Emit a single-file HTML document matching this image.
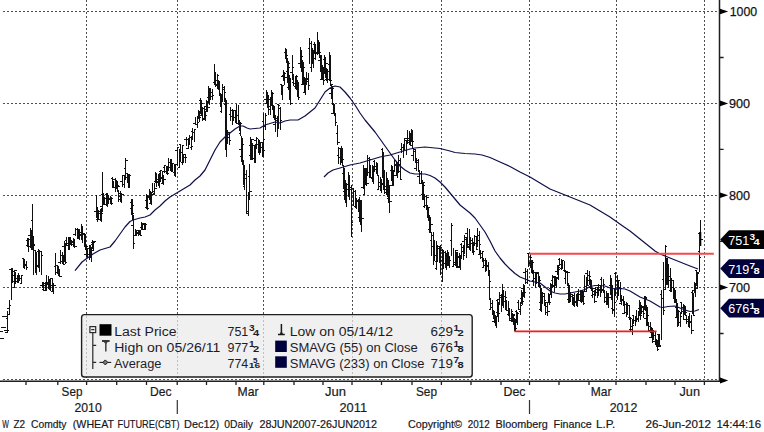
<!DOCTYPE html>
<html><head><meta charset="utf-8"><title>W Z2 Comdty</title>
<style>
html,body{margin:0;padding:0;background:#fff;}
body{width:764px;height:432px;overflow:hidden;font-family:"Liberation Sans",sans-serif;}
svg{display:block}
svg text{font-family:"Liberation Sans",sans-serif;}
</style></head><body>
<svg width="764" height="432" viewBox="0 0 764 432">
<rect width="764" height="432" fill="#fff"/>
<g stroke="#505050" stroke-width="1" stroke-dasharray="2 2" fill="none" shape-rendering="crispEdges"><line x1="86.5" y1="0" x2="86.5" y2="380" /><line x1="177.5" y1="0" x2="177.5" y2="380" /><line x1="263.5" y1="0" x2="263.5" y2="380" /><line x1="352.5" y1="0" x2="352.5" y2="380" /><line x1="441.5" y1="0" x2="441.5" y2="380" /><line x1="529.5" y1="0" x2="529.5" y2="380" /><line x1="616.5" y1="0" x2="616.5" y2="380" /><line x1="704.5" y1="0" x2="704.5" y2="380" /><line x1="3" y1="11.5" x2="718" y2="11.5" /><line x1="3" y1="103.5" x2="718" y2="103.5" /><line x1="3" y1="195.5" x2="718" y2="195.5" /><line x1="3" y1="287.5" x2="718" y2="287.5" /><line x1="3" y1="379.5" x2="718" y2="379.5" /></g>
<path d="M7.5 311V333M9.5 300V315M11.5 268V300M12.5 268V283M14.5 270V288M15.5 272V284M17.5 275V283M18.5 273V283M19.5 275V281M21.5 275V284M23.5 258V268M24.5 259V269M26.5 261V270M27.5 238V247M28.5 238V252M30.5 228V248M31.5 230V250M32.5 204V250M33.5 236V275M35.5 250V273M36.5 252V275M38.5 249V268M39.5 250V272M41.5 252V275M42.5 282V288M43.5 283V291M45.5 282V291M46.5 282V291M46.5 275V285M48.5 276V288M49.5 279V290M50.5 278V291M52.5 279V292M53.5 283V294M55.5 253V275M57.5 265V274M58.5 266V276M59.5 269V277M60.5 250V264M62.5 252V264M63.5 255V265M64.5 241V262M65.5 243V264M66.5 237V246M68.5 238V250M69.5 238V250M70.5 237V245M71.5 240V246M73.5 238V247M74.5 239V248M75.5 228V236M77.5 228V239M78.5 229V239M79.5 229V240M81.5 224V240M82.5 226V243M84.5 233V247M85.5 234V250M86.5 245V257M87.5 248V258M89.5 245V260M90.5 245V257M91.5 247V262M92.5 240V249M93.5 241V250M96.5 195V218M97.5 208V222M98.5 210V220M100.5 209V221M101.5 208V222M102.5 172V212M103.5 193V205M104.5 197V204M106.5 193V206M107.5 193V207M108.5 195V204M110.5 196V204M111.5 197V205M112.5 177V188M113.5 181V188M115.5 178V192M116.5 180V189M117.5 181V192M118.5 190V202M120.5 191V202M121.5 193V203M122.5 175V187M124.5 176V188M125.5 158V180M127.5 173V183M128.5 174V187M129.5 174V188M131.5 199V215M132.5 199V220M133.5 215V249M135.5 229V236M136.5 230V235M138.5 230V236M139.5 230V235M140.5 231V236M141.5 222V230M142.5 223V230M144.5 223V229M145.5 223V230M146.5 194V209M147.5 195V210M149.5 189V200M150.5 191V203M151.5 192V205M152.5 183V193M154.5 183V195M155.5 172V183M156.5 173V187M158.5 174V186M159.5 173V188M160.5 170V182M162.5 172V184M163.5 175V185M164.5 165V173M166.5 166V174M167.5 166V175M168.5 158V171M170.5 159V171M171.5 159V172M172.5 163V172M174.5 164V176M175.5 164V177M177.5 147V166M179.5 149V168M180.5 144V162M182.5 145V165M183.5 154V163M185.5 155V163M186.5 137V146M188.5 138V149M189.5 135V145M191.5 136V150M192.5 128V140M194.5 129V142M195.5 117V124M197.5 117V128M198.5 110V119M199.5 111V122M200.5 98V114M201.5 100V115M202.5 107V121M204.5 107V120M205.5 111V121M206.5 100V112M207.5 101V112M208.5 86V103M209.5 88V105M210.5 88V100M212.5 89V100M214.5 64V85M215.5 72V87M217.5 74V88M218.5 80V90M219.5 81V95M220.5 93V107M221.5 95V113M222.5 84V101M224.5 86V102M225.5 98V150M226.5 100V157M227.5 130V144M229.5 132V145M230.5 107V121M232.5 109V125M233.5 110V121M235.5 111V123M236.5 104V124M238.5 105V125M239.5 120V131M240.5 122V136M241.5 136V162M242.5 138V165M243.5 160V185M244.5 165V190M246.5 170V214M248.5 192V216M249.5 164V200M250.5 137V160M251.5 139V160M252.5 143V160M254.5 145V163M255.5 144V163M256.5 137V149M258.5 139V153M259.5 140V155M260.5 142V153M262.5 142V157M263.5 113V157M265.5 113V130M266.5 90V103M267.5 92V108M268.5 95V115M270.5 97V115M271.5 90V106M272.5 92V110M273.5 105V118M274.5 106V120M275.5 115V132M277.5 116V137M278.5 104V129M280.5 107V130M281.5 84V95M282.5 85V100M283.5 70V81M284.5 72V85M285.5 48V59M286.5 50V63M287.5 58V83M288.5 61V90M289.5 75V100M290.5 78V105M292.5 55V80M293.5 74V86M295.5 76V88M296.5 75V90M297.5 80V97M298.5 82V100M300.5 47V68M301.5 50V72M302.5 60V84M303.5 62V85M304.5 77V93M305.5 78V95M306.5 72V85M308.5 73V90M309.5 38V64M311.5 41V72M312.5 48V64M313.5 50V68M314.5 42V54M315.5 44V60M317.5 32V55M318.5 40V54M319.5 42V58M320.5 55V72M321.5 55V80M322.5 65V80M323.5 67V85M324.5 55V74M325.5 57V78M326.5 68V81M327.5 70V83M329.5 52V81M330.5 55V86M331.5 84V99M332.5 86V105M333.5 103V114M334.5 104V115M335.5 113V126M337.5 125V145M338.5 147V164M340.5 149V165M341.5 146V162M342.5 148V166M343.5 165V189M344.5 168V200M345.5 180V203M346.5 183V207M348.5 172V197M349.5 175V200M351.5 185V237M353.5 188V206M355.5 190V208M356.5 198V209M358.5 199V212M359.5 197V222M360.5 200V225M361.5 200V232M363.5 165V189M364.5 168V195M365.5 168V185M366.5 169V186M367.5 155V176M369.5 157V178M370.5 165V178M372.5 165V182M373.5 166V184M374.5 160V172M376.5 162V174M377.5 163V176M378.5 175V189M380.5 177V191M381.5 180V193M382.5 148V178M383.5 152V190M384.5 170V194M386.5 172V195M387.5 178V197M388.5 180V203M389.5 185V213M391.5 165V181M392.5 166V186M393.5 170V186M394.5 160V172M396.5 162V176M397.5 162V178M398.5 155V173M400.5 158V180M401.5 143V153M403.5 144V158M404.5 138V150M406.5 140V155M407.5 130V144M409.5 131V145M410.5 134V146M411.5 129V142M412.5 130V148M413.5 148V161M415.5 150V163M416.5 158V171M418.5 159V172M419.5 170V183M421.5 171V184M422.5 180V200M423.5 182V200M424.5 194V208M426.5 195V210M427.5 205V218M428.5 207V221M429.5 215V233M430.5 217V233M431.5 232V256M433.5 232V265M434.5 240V261M436.5 241V270M437.5 245V262M439.5 246V262M440.5 245V275M442.5 249V282M443.5 250V269M445.5 251V268M446.5 253V270M447.5 250V266M448.5 252V266M449.5 256V268M451.5 223V256M453.5 248V267M455.5 250V266M456.5 252V268M457.5 252V267M459.5 253V268M460.5 255V270M461.5 243V259M463.5 245V260M464.5 235V254M466.5 237V258M467.5 228V246M469.5 229V250M470.5 237V251M472.5 238V253M473.5 242V255M474.5 235V246M476.5 236V250M477.5 228V247M479.5 231V255M480.5 250V259M482.5 251V262M483.5 258V268M485.5 258V272M486.5 260V271M488.5 262V276M489.5 270V300M490.5 298V310M492.5 300V315M493.5 310V319M494.5 311V323M495.5 315V326M496.5 316V328M497.5 300V317M498.5 302V322M499.5 292V305M501.5 294V312M502.5 284V306M503.5 290V308M505.5 291V310M506.5 300V311M508.5 301V315M509.5 308V321M511.5 309V322M512.5 313V322M513.5 314V325M514.5 318V331M515.5 319V331M516.5 310V322M517.5 312V325M518.5 300V310M520.5 302V315M521.5 290V304M522.5 292V305M523.5 284V297M524.5 285V298M525.5 268V284M527.5 269V284M528.5 253V267M530.5 254V268M531.5 260V273M532.5 260V274M533.5 270V286M535.5 272V288M536.5 272V284M538.5 272V287M539.5 276V288M540.5 285V311M541.5 288V312M542.5 292V304M544.5 293V306M545.5 302V315M547.5 303V316M548.5 293V303M549.5 294V305M550.5 283V295M551.5 284V298M552.5 275V288M554.5 277V292M555.5 277V285M556.5 278V288M557.5 265V275M558.5 265V280M559.5 258V266M561.5 259V270M562.5 260V269M564.5 261V272M565.5 270V284M567.5 272V286M568.5 283V303M569.5 285V303M570.5 293V302M572.5 294V305M573.5 297V306M574.5 293V307M576.5 294V306M577.5 293V307M578.5 289V300M580.5 290V302M581.5 290V303M582.5 290V302M583.5 292V305M584.5 275V291M586.5 277V292M587.5 270V285M589.5 271V285M590.5 279V289M591.5 280V291M592.5 288V298M594.5 290V303M595.5 287V296M597.5 287V298M598.5 284V296M600.5 285V297M601.5 277V293M603.5 279V293M604.5 290V303M606.5 291V305M607.5 293V305M608.5 293V308M610.5 275V295M611.5 278V300M612.5 285V314M614.5 288V317M615.5 272V296M617.5 275V300M618.5 281V296M620.5 282V302M621.5 295V305M623.5 296V306M624.5 301V314M626.5 302V317M627.5 303V315M629.5 305V320M630.5 317V332M632.5 319V335M633.5 315V324M635.5 316V326M636.5 310V322M638.5 311V322M639.5 300V316M640.5 302V320M641.5 305V314M643.5 306V318M644.5 296V310M645.5 296V311M646.5 305V324M647.5 307V325M648.5 322V331M650.5 322V333M651.5 327V338M652.5 328V343M653.5 330V340M655.5 332V345M656.5 339V347M657.5 340V351M658.5 334V346M659.5 334V347M661.5 290V340M663.5 262V315M665.5 245V290M666.5 258V285M667.5 258V285M668.5 265V288M670.5 268V292M671.5 278V292M673.5 280V298M674.5 288V303M675.5 290V303M676.5 300V318M677.5 303V327M678.5 310V326M680.5 312V327M681.5 302V314M683.5 304V320M684.5 305V315M685.5 306V316M686.5 315V324M688.5 316V327M689.5 313V328M691.5 315V334M692.5 290V314M693.5 293V316M694.5 282V293M695.5 284V297M696.5 270V285M697.5 272V288M699.5 246V272M700.5 220V246M6 318.5H8M7 314.5H10M7 308.5H10M9 305.5H11M9 269.5H12M11 281.5H14M11 269.5H13M12 271.5H14M13 287.5H15M14 270.5H17M13 275.5H16M15 281.5H17M15 278.5H18M17 275.5H20M17 276.5H19M18 278.5H21M18 276.5H20M19 278.5H21M20 283.5H22M21 275.5H23M22 258.5H24M23 264.5H25M23 265.5H25M24 264.5H26M24 265.5H27M26 267.5H28M26 245.5H28M27 240.5H29M26 240.5H29M28 239.5H30M28 235.5H31M30 245.5H32M29 246.5H32M31 247.5H33M31 220.5H33M32 244.5H35M31 242.5H34M33 245.5H35M34 250.5H36M35 259.5H37M35 264.5H37M36 266.5H39M37 265.5H39M38 264.5H40M37 251.5H40M39 251.5H42M39 251.5H42M41 255.5H43M40 285.5H43M42 282.5H44M42 289.5H44M43 290.5H45M44 285.5H46M45 284.5H48M45 286.5H47M46 283.5H49M44 283.5H47M46 282.5H48M47 282.5H49M48 285.5H51M48 288.5H50M49 287.5H51M48 282.5H51M50 278.5H53M51 291.5H53M52 285.5H54M51 285.5H54M53 285.5H56M54 266.5H56M55 272.5H57M56 265.5H58M57 270.5H59M57 267.5H59M58 273.5H60M58 272.5H60M59 276.5H62M58 262.5H61M60 261.5H62M60 255.5H63M62 258.5H65M62 260.5H64M63 264.5H65M62 246.5H65M64 247.5H66M64 245.5H66M65 262.5H67M65 240.5H67M66 245.5H68M66 243.5H69M68 240.5H70M68 246.5H70M69 244.5H71M68 237.5H71M70 241.5H73M70 243.5H72M71 244.5H73M72 242.5H74M73 244.5H75M73 245.5H75M74 246.5H77M73 234.5H76M75 229.5H77M76 229.5H78M77 235.5H79M77 235.5H79M78 230.5H80M78 233.5H80M79 234.5H81M79 232.5H82M81 229.5H83M80 235.5H83M82 233.5H84M83 233.5H85M84 246.5H86M83 234.5H86M85 246.5H88M84 254.5H87M86 248.5H88M86 249.5H88M87 248.5H89M87 254.5H90M89 257.5H91M89 250.5H91M90 249.5H92M89 254.5H92M91 250.5H94M91 242.5H93M92 242.5H95M91 244.5H94M93 241.5H96M94 211.5H97M96 207.5H98M96 219.5H98M97 213.5H99M97 216.5H99M98 219.5H100M98 213.5H101M100 213.5H103M99 211.5H102M101 210.5H103M100 206.5H103M102 198.5H105M101 194.5H104M103 198.5H105M103 199.5H105M104 204.5H106M104 198.5H107M106 199.5H108M105 194.5H108M107 198.5H110M107 200.5H109M108 199.5H110M109 199.5H111M110 198.5H113M110 197.5H112M111 203.5H113M111 178.5H113M112 182.5H114M112 185.5H114M113 187.5H115M113 179.5H116M115 183.5H117M115 185.5H117M116 185.5H119M116 186.5H118M117 186.5H120M117 190.5H119M118 193.5H121M119 196.5H121M120 195.5H122M119 199.5H122M121 194.5H124M120 181.5H123M122 175.5H125M123 184.5H125M124 179.5H126M124 168.5H126M125 160.5H128M126 173.5H128M127 177.5H129M126 177.5H129M128 186.5H130M128 187.5H130M129 175.5H131M130 202.5H132M131 213.5H134M130 208.5H133M132 205.5H134M131 225.5H134M133 243.5H135M134 235.5H136M135 233.5H138M135 235.5H137M136 232.5H138M136 230.5H139M138 234.5H140M138 232.5H140M139 230.5H141M139 234.5H141M140 235.5H142M140 227.5H142M141 225.5H143M141 229.5H143M142 223.5H144M143 229.5H145M144 224.5H146M143 224.5H146M145 224.5H147M145 207.5H147M146 208.5H149M145 200.5H148M147 196.5H150M148 197.5H150M149 193.5H151M149 191.5H151M150 194.5H153M149 203.5H152M151 194.5H154M151 192.5H153M152 191.5H155M153 193.5H155M154 188.5H157M154 181.5H156M155 181.5H158M155 180.5H157M156 182.5H158M156 179.5H159M158 180.5H160M157 182.5H160M159 177.5H162M159 171.5H161M160 170.5H162M161 178.5H163M162 171.5H164M161 183.5H164M163 179.5H166M163 167.5H165M164 165.5H166M164 171.5H167M166 173.5H169M166 172.5H168M167 167.5H169M167 170.5H169M168 162.5H171M169 162.5H171M170 170.5H173M169 167.5H172M171 171.5H173M170 164.5H173M172 163.5H174M173 172.5H175M174 175.5H176M174 173.5H176M175 164.5H177M175 150.5H178M177 147.5H179M178 167.5H180M179 153.5H181M179 144.5H181M180 152.5H182M181 162.5H183M182 145.5H184M182 154.5H184M183 154.5H186M184 157.5H186M185 157.5H187M184 139.5H187M186 139.5H188M186 148.5H189M188 138.5H190M188 138.5H190M189 137.5H191M190 147.5H192M191 146.5H193M191 131.5H193M192 132.5H195M192 132.5H195M194 129.5H196M193 123.5H196M195 124.5H198M195 124.5H198M197 122.5H199M197 116.5H199M198 117.5H201M198 117.5H200M199 115.5H202M199 100.5H201M200 111.5H202M200 107.5H202M201 103.5H203M201 113.5H203M202 118.5H204M203 108.5H205M204 109.5H206M203 119.5H206M205 115.5H207M204 106.5H207M206 107.5H208M206 103.5H208M207 107.5H210M207 97.5H209M208 89.5H211M208 88.5H210M209 89.5H211M209 89.5H211M210 96.5H213M211 92.5H213M212 95.5H214M213 82.5H215M214 84.5H217M214 72.5H216M215 85.5H217M215 80.5H218M217 75.5H219M217 80.5H219M218 86.5H220M217 88.5H220M219 93.5H221M219 95.5H221M220 94.5H222M220 111.5H222M221 101.5H223M221 97.5H223M222 87.5H224M223 89.5H225M224 92.5H226M224 104.5H226M225 110.5H227M225 102.5H227M226 132.5H229M226 138.5H228M227 137.5H229M228 137.5H230M229 140.5H231M229 114.5H231M230 110.5H232M230 116.5H233M232 110.5H234M232 115.5H234M233 110.5H236M234 117.5H236M235 111.5H237M235 121.5H237M236 123.5H238M237 115.5H239M238 124.5H241M238 120.5H240M239 123.5H242M239 133.5H241M240 123.5H242M239 149.5H242M241 144.5H244M240 156.5H243M242 162.5H244M242 162.5H244M243 173.5H245M243 186.5H245M244 178.5H246M245 174.5H247M246 213.5H248M247 211.5H249M248 198.5H250M248 176.5H250M249 191.5H252M249 155.5H251M250 142.5H252M249 145.5H252M251 139.5H254M250 151.5H253M252 158.5H255M252 145.5H255M254 151.5H256M254 155.5H256M255 148.5H257M254 140.5H257M256 138.5H258M256 144.5H259M258 142.5H260M258 149.5H260M259 146.5H261M259 142.5H261M260 147.5H263M261 142.5H263M262 150.5H265M262 121.5H264M263 139.5H265M264 126.5H266M265 115.5H267M264 99.5H267M266 99.5H268M265 103.5H268M267 99.5H270M267 101.5H269M268 109.5H270M269 106.5H271M270 104.5H272M270 105.5H272M271 93.5H274M271 105.5H273M272 108.5H274M272 108.5H274M273 117.5H275M273 112.5H275M274 117.5H276M273 124.5H276M275 120.5H277M275 118.5H278M277 116.5H279M277 104.5H279M278 105.5H280M279 108.5H281M280 120.5H282M280 84.5H282M281 93.5H283M281 86.5H283M282 85.5H284M281 76.5H284M283 73.5H286M282 75.5H285M284 77.5H287M284 52.5H286M285 51.5H287M285 49.5H287M286 55.5H288M286 71.5H288M287 63.5H290M287 61.5H289M288 67.5H290M287 87.5H290M289 95.5H291M288 85.5H291M290 103.5H293M290 72.5H293M292 67.5H294M292 82.5H294M293 83.5H295M294 86.5H296M295 76.5H298M295 88.5H297M296 82.5H298M296 89.5H298M297 92.5H299M297 84.5H299M298 97.5H300M298 63.5H301M300 59.5H302M300 53.5H302M301 56.5H303M301 65.5H303M302 67.5H305M301 84.5H304M303 78.5H305M303 92.5H305M304 89.5H306M304 79.5H306M305 81.5H308M305 81.5H307M306 78.5H308M307 79.5H309M308 85.5H310M308 48.5H310M309 43.5H311M310 67.5H312M311 62.5H313M311 49.5H313M312 54.5H314M312 57.5H314M313 58.5H315M313 44.5H315M314 50.5H316M313 44.5H316M315 52.5H317M315 53.5H318M317 43.5H319M317 47.5H319M318 48.5H320M318 45.5H320M319 52.5H321M318 60.5H321M320 55.5H322M320 65.5H322M321 72.5H324M320 79.5H323M322 72.5H324M322 69.5H324M323 80.5H325M323 59.5H325M324 73.5H326M324 66.5H326M325 63.5H328M325 79.5H327M326 71.5H329M325 69.5H328M327 79.5H330M328 64.5H330M329 70.5H331M329 57.5H331M330 80.5H332M329 93.5H332M331 84.5H333M330 88.5H333M332 88.5H334M331 113.5H334M333 112.5H335M333 111.5H335M334 113.5H336M334 115.5H336M335 122.5H337M336 133.5H338M337 142.5H340M337 155.5H339M338 148.5H341M338 157.5H341M340 162.5H342M340 156.5H342M341 159.5H343M340 159.5H343M342 159.5H344M342 173.5H344M343 188.5H345M343 191.5H345M344 188.5H346M343 191.5H346M345 197.5H347M345 202.5H347M346 189.5H348M347 184.5H349M348 196.5H350M348 182.5H350M349 189.5H351M350 187.5H352M351 222.5H353M352 188.5H354M353 191.5H355M354 206.5H356M355 201.5H357M355 205.5H357M356 200.5H358M357 201.5H359M358 199.5H360M358 217.5H360M359 216.5H362M359 207.5H361M360 210.5H362M359 201.5H362M361 218.5H364M361 187.5H364M363 175.5H365M363 194.5H365M364 180.5H367M363 170.5H366M365 168.5H367M364 170.5H367M366 183.5H369M365 170.5H368M367 158.5H369M368 172.5H370M369 159.5H371M369 168.5H371M370 177.5H373M371 178.5H373M372 166.5H374M372 174.5H374M373 167.5H375M373 161.5H375M374 169.5H376M375 166.5H377M376 171.5H378M376 163.5H378M377 175.5H379M377 189.5H379M378 186.5H380M379 182.5H381M380 186.5H382M380 179.5H382M381 183.5H383M381 149.5H383M382 172.5H384M382 184.5H384M383 182.5H385M382 183.5H385M384 189.5H386M385 186.5H387M386 187.5H389M385 192.5H388M387 186.5H389M387 193.5H389M388 200.5H390M387 198.5H390M389 201.5H392M390 170.5H392M391 174.5H393M390 185.5H393M392 173.5H394M392 179.5H394M393 175.5H396M393 170.5H395M394 165.5H397M395 175.5H397M396 172.5H398M395 164.5H398M397 164.5H400M397 163.5H399M398 171.5H401M398 160.5H401M400 179.5H402M400 149.5H402M401 147.5H404M401 147.5H404M403 145.5H405M403 147.5H405M404 138.5H406M405 140.5H407M406 141.5H408M405 138.5H408M407 140.5H409M407 138.5H410M409 133.5H412M408 142.5H411M410 136.5H412M409 140.5H412M411 140.5H413M411 145.5H413M412 141.5H414M411 155.5H414M413 149.5H416M413 151.5H416M415 161.5H417M414 168.5H417M416 162.5H418M416 160.5H419M418 171.5H420M417 176.5H420M419 173.5H422M419 183.5H422M421 183.5H424M421 194.5H423M422 185.5H425M422 184.5H424M423 182.5H425M423 206.5H425M424 196.5H427M424 205.5H427M426 197.5H429M426 208.5H428M427 207.5H429M427 209.5H429M428 207.5H430M428 229.5H430M429 220.5H431M429 231.5H431M430 224.5H433M430 240.5H432M431 235.5H433M431 246.5H434M433 249.5H435M433 246.5H435M434 255.5H436M435 268.5H437M436 255.5H438M435 261.5H438M437 248.5H440M438 246.5H440M439 247.5H442M439 262.5H441M440 260.5H443M441 250.5H443M442 252.5H444M442 257.5H444M443 252.5H445M444 263.5H446M445 253.5H447M445 267.5H447M446 261.5H448M446 253.5H448M447 255.5H449M446 263.5H449M448 264.5H450M448 258.5H450M449 260.5H451M450 240.5H452M451 225.5H453M452 266.5H454M453 262.5H455M454 264.5H456M455 250.5H458M455 260.5H457M456 266.5H459M456 266.5H458M457 256.5H459M457 267.5H460M459 260.5H461M458 257.5H461M460 257.5H462M460 244.5H462M461 251.5H463M462 247.5H464M463 255.5H465M462 241.5H465M464 239.5H466M465 237.5H467M466 244.5H469M465 233.5H468M467 246.5H469M467 247.5H470M469 238.5H471M469 238.5H471M470 240.5H472M471 243.5H473M472 248.5H474M472 251.5H474M473 251.5H475M473 245.5H475M474 236.5H477M475 243.5H477M476 249.5H478M476 239.5H478M477 235.5H479M478 240.5H480M479 244.5H481M478 254.5H481M480 253.5H482M481 257.5H483M482 251.5H484M482 267.5H484M483 260.5H485M484 265.5H486M485 264.5H487M485 265.5H487M486 265.5H488M487 266.5H489M488 275.5H490M488 272.5H490M489 281.5H491M489 309.5H491M490 303.5H492M490 307.5H493M492 312.5H494M492 314.5H494M493 311.5H495M492 321.5H495M494 316.5H497M494 317.5H496M495 316.5H497M495 323.5H497M496 316.5H498M496 300.5H498M497 305.5H499M496 312.5H499M498 313.5H500M497 299.5H500M499 297.5H502M500 295.5H502M501 297.5H503M500 297.5H503M502 301.5H505M501 302.5H504M503 296.5H506M504 301.5H506M505 297.5H507M505 306.5H507M506 310.5H508M507 314.5H509M508 313.5H510M508 315.5H510M509 320.5H511M510 318.5H512M511 311.5H513M511 315.5H513M512 314.5H515M512 320.5H514M513 315.5H515M513 319.5H515M514 328.5H517M514 321.5H516M515 319.5H517M515 311.5H517M516 313.5H519M516 322.5H518M517 313.5H519M517 302.5H519M518 309.5H521M519 311.5H521M520 305.5H522M520 298.5H522M521 292.5H524M521 295.5H523M522 301.5H524M521 288.5H524M523 285.5H525M523 286.5H525M524 292.5H526M523 272.5H526M525 271.5H527M526 282.5H528M527 280.5H529M527 253.5H529M528 262.5H530M529 263.5H531M530 257.5H532M530 261.5H532M531 272.5H533M531 262.5H533M532 262.5H534M532 280.5H534M533 272.5H535M534 278.5H536M535 282.5H538M535 275.5H537M536 272.5H538M536 273.5H539M538 283.5H540M538 284.5H540M539 280.5H541M539 309.5H541M540 296.5H542M539 302.5H542M541 298.5H543M541 302.5H543M542 293.5H545M543 296.5H545M544 300.5H546M544 302.5H546M545 306.5H548M545 312.5H548M547 311.5H550M546 302.5H549M548 296.5H550M548 297.5H550M549 302.5H551M549 290.5H551M550 288.5H552M549 288.5H552M551 286.5H554M551 280.5H553M552 276.5H554M553 277.5H555M554 276.5H556M553 285.5H556M555 281.5H557M555 283.5H557M556 278.5H558M555 271.5H558M557 267.5H560M556 277.5H559M558 269.5H560M558 259.5H560M559 264.5H561M560 268.5H562M561 262.5H563M561 262.5H563M562 260.5H564M563 270.5H565M564 271.5H566M564 278.5H566M565 271.5H568M566 272.5H568M567 272.5H570M567 299.5H569M568 300.5H570M568 294.5H570M569 292.5H571M568 301.5H571M570 294.5H572M571 296.5H573M572 295.5H574M572 304.5H574M573 305.5H575M572 302.5H575M574 301.5H576M575 301.5H577M576 297.5H578M575 302.5H578M577 299.5H579M577 293.5H579M578 294.5H580M578 300.5H581M580 296.5H582M580 296.5H582M581 293.5H583M581 291.5H583M582 296.5H585M582 297.5H584M583 303.5H585M582 291.5H585M584 286.5H586M585 291.5H587M586 285.5H589M585 273.5H588M587 275.5H589M588 280.5H590M589 276.5H591M588 287.5H591M590 287.5H592M589 287.5H592M591 289.5H593M591 295.5H593M592 288.5H595M593 291.5H595M594 301.5H597M593 294.5H596M595 292.5H598M595 289.5H598M597 293.5H599M597 294.5H599M598 290.5H600M599 289.5H601M600 287.5H602M600 279.5H602M601 289.5H603M602 290.5H604M603 284.5H605M603 292.5H605M604 301.5H607M605 297.5H607M606 299.5H608M606 297.5H608M607 293.5H609M606 303.5H609M608 297.5H610M609 285.5H611M610 294.5H613M610 297.5H612M611 294.5H613M611 308.5H613M612 310.5H614M613 309.5H615M614 302.5H616M614 273.5H616M615 280.5H617M616 280.5H618M617 280.5H620M617 287.5H619M618 287.5H620M619 288.5H621M620 288.5H622M619 303.5H622M621 300.5H624M622 299.5H624M623 303.5H625M622 313.5H625M624 304.5H627M625 312.5H627M626 305.5H629M626 310.5H628M627 305.5H629M628 317.5H630M629 318.5H632M629 329.5H631M630 326.5H633M631 329.5H633M632 325.5H634M632 315.5H634M633 320.5H635M634 320.5H636M635 316.5H637M635 317.5H637M636 318.5H639M637 319.5H639M638 311.5H640M638 308.5H640M639 310.5H641M639 314.5H641M640 315.5H642M640 308.5H642M641 307.5H643M642 311.5H644M643 313.5H645M642 306.5H645M644 297.5H647M644 304.5H646M645 298.5H647M644 318.5H647M646 322.5H649M646 324.5H648M647 315.5H649M646 325.5H649M648 330.5H650M648 326.5H651M650 331.5H652M649 337.5H652M651 333.5H654M651 331.5H653M652 331.5H654M651 332.5H654M653 335.5H655M653 341.5H656M655 342.5H657M655 340.5H657M656 344.5H658M656 342.5H658M657 349.5H659M656 344.5H659M658 346.5H661M657 334.5H660M659 345.5H661M660 294.5H662M661 298.5H664M662 279.5H664M663 310.5H665M663 289.5H666M665 246.5H667M665 271.5H667M666 264.5H669M665 266.5H668M667 281.5H669M666 269.5H669M668 280.5H670M669 276.5H671M670 279.5H672M669 290.5H672M671 287.5H674M672 280.5H674M673 289.5H675M673 298.5H675M674 297.5H676M674 301.5H676M675 299.5H677M675 307.5H677M676 307.5H679M675 317.5H678M677 325.5H679M677 313.5H679M678 311.5H680M679 322.5H681M680 316.5H682M680 302.5H682M681 311.5H683M682 307.5H684M683 313.5H685M683 310.5H685M684 310.5H686M683 308.5H686M685 312.5H687M684 319.5H687M686 319.5H689M687 321.5H689M688 321.5H691M688 320.5H690M689 322.5H691M690 322.5H692M691 330.5H694M691 292.5H693M692 298.5H694M692 301.5H694M693 315.5H695M693 290.5H695M694 283.5H696M694 288.5H696M695 288.5H698M695 270.5H697M696 272.5H699M696 285.5H698M697 273.5H699M698 251.5H700M699 257.5H701M698 233.5H701M700 239.5H703M1 327.5H6M0 331.5H3M4 330.5H9M5 332.5H8M0 338.5H4M2 316.5H8" stroke="#101010" stroke-width="1" fill="none" shape-rendering="crispEdges"/>
<path d="M700.2 232V246" stroke="#000" stroke-width="2.2" fill="none"/>
<polyline points="324.0,177.0 328.0,173.0 333.0,170.0 340.0,168.0 350.0,165.0 360.0,163.0 370.0,160.0 380.0,157.0 390.0,155.0 400.0,152.0 410.0,149.0 415.0,148.0 425.0,147.0 430.0,147.5 440.0,148.5 450.0,151.0 455.0,152.5 465.0,153.5 475.0,154.0 482.0,155.0 490.0,157.5 500.0,162.0 510.0,166.5 520.0,172.0 530.0,177.0 540.0,183.0 550.0,189.0 560.0,193.0 570.0,197.0 580.0,201.0 590.0,205.0 600.0,211.0 610.0,217.0 622.0,225.5 630.0,231.0 635.0,235.0 640.0,239.0 645.0,243.0 650.0,247.0 655.0,251.0 660.0,254.0 665.0,256.0 670.0,258.0 680.0,262.0 690.0,266.0 698.0,269.0" fill="none" stroke="#0e0e48" stroke-width="1.2" stroke-linejoin="round"/>
<polyline points="75.0,270.6 82.0,262.0 86.0,259.0 93.0,254.0 100.0,250.0 105.0,248.5 110.0,247.0 115.0,241.0 120.0,234.0 125.0,227.0 130.0,221.5 133.0,220.0 140.0,218.0 145.0,217.0 150.0,215.0 155.0,210.0 160.0,206.0 165.0,201.0 170.0,197.0 175.0,194.0 180.0,191.0 185.0,188.0 190.0,185.0 195.0,180.0 200.0,176.0 205.0,170.0 210.0,160.0 215.0,150.0 220.0,142.0 225.0,137.0 230.0,133.0 235.0,129.0 240.0,126.0 243.0,126.0 247.0,128.0 250.0,129.0 255.0,128.5 260.0,128.0 265.0,125.0 270.0,123.5 275.0,122.0 280.0,123.0 285.0,121.0 290.0,120.0 298.0,120.0 305.0,116.0 310.0,112.0 315.0,108.0 320.0,100.0 325.0,92.0 330.0,88.0 335.0,86.0 340.0,87.0 345.0,92.0 350.0,98.0 355.0,105.0 360.0,113.0 365.0,120.0 370.0,126.0 375.0,132.0 380.0,139.0 385.0,146.0 390.0,153.0 395.0,160.0 400.0,166.0 405.0,170.0 410.0,173.0 415.0,174.0 420.0,174.0 425.0,174.0 430.0,175.5 435.0,178.0 440.0,182.0 445.0,187.0 450.0,193.0 455.0,199.0 460.0,205.0 465.0,209.0 470.0,213.0 475.0,218.0 480.0,225.0 485.0,232.0 490.0,241.0 495.0,251.0 500.0,258.0 505.0,264.0 510.0,269.0 515.0,273.5 520.0,277.0 525.0,279.0 530.0,281.0 535.0,282.0 540.0,283.0 545.0,287.0 550.0,291.0 555.0,293.0 560.0,294.0 565.0,294.0 570.0,293.0 575.0,292.0 580.0,291.0 585.0,289.5 590.0,286.5 595.0,285.5 600.0,285.5 605.0,286.0 610.0,288.0 615.0,289.0 620.0,288.5 625.0,289.0 630.0,291.0 635.0,294.0 640.0,297.0 645.0,299.0 650.0,301.0 655.0,304.0 660.0,307.0 663.0,307.5 668.0,306.5 675.0,306.0 680.0,308.0 685.0,310.0 690.0,311.5 695.0,311.0 699.0,309.5" fill="none" stroke="#0e0e48" stroke-width="1.2" stroke-linejoin="round"/>
<path d="M529.7 253.7H713.8" stroke="#f4484e" stroke-width="1.9" fill="none"/><path d="M514.3 331.4H656.6" stroke="#f41a20" stroke-width="1.7" fill="none"/>
<g>
<rect x="81.6" y="314.6" width="390.6" height="62.4" rx="2.8" ry="2.8" fill="#eaeaea" fill-opacity="0.72" stroke="#1e1e1e" stroke-width="1.4"/>
<g stroke="#2a2a2a" stroke-width="1.2" fill="none">
<rect x="89.9" y="326.6" width="5.8" height="6"/>
<path d="M91.3 329.6H94.4M92.8 333V369M92.8 345.3H96.2M92.8 362.4H96.2"/>
</g>
<rect x="99.5" y="324.2" width="12" height="11.5" fill="#000"/>
<path d="M102 341H109.6" stroke="#1a1a1a" stroke-width="1.7" fill="none"/><path d="M103.6 341.6L105.8 344.6L108 341.6Z" fill="#2a2a2a"/><path d="M105.8 342V351.6" stroke="#4a4a4a" stroke-width="1.6" fill="none"/>
<path d="M99.5 362.4H111.2" stroke="#1a1a1a" stroke-width="1.1" fill="none"/>
<path d="M105.3 359.9L107.8 362.4L105.3 364.9L102.8 362.4Z" fill="#777" stroke="#1a1a1a" stroke-width="1"/>
<path d="M281.4 324V334.2M278 334.4H284.8" stroke="#1a1a1a" stroke-width="1.5" fill="none"/>
<path d="M279.6 334.4L281.4 331L283.2 334.4Z" fill="#1a1a1a"/>
<rect x="275.2" y="340.6" width="11.6" height="11.4" fill="#00003c"/>
<rect x="275.2" y="356.3" width="11.6" height="11.5" fill="#00003c"/>
<g font-size="13.7" fill="#1c1c2c"><text x="114.2" y="335.5" textLength="62.3" lengthAdjust="spacingAndGlyphs">Last Price</text><text x="114.2" y="351.5" textLength="106.1" lengthAdjust="spacingAndGlyphs">High on 05/26/11</text><text x="114" y="367.6" textLength="47.5" lengthAdjust="spacingAndGlyphs">Average</text><text x="227.5" y="335.6" textLength="20.8" lengthAdjust="spacingAndGlyphs">751</text><text x="227.5" y="351.5" textLength="20.8" lengthAdjust="spacingAndGlyphs">977</text><text x="227.5" y="367.6" textLength="20.8" lengthAdjust="spacingAndGlyphs">774</text><text x="249.0" y="331.0" font-size="8.6" font-weight="bold" fill="#1c1c2c" textLength="5.6" lengthAdjust="spacingAndGlyphs">3</text><text x="252.9" y="336.0" font-size="8.2" font-weight="bold" fill="#1c1c2c" textLength="6.2" lengthAdjust="spacingAndGlyphs">4</text><text x="249.0" y="346.9" font-size="8.6" font-weight="bold" fill="#1c1c2c" textLength="5.6" lengthAdjust="spacingAndGlyphs">1</text><text x="252.9" y="351.9" font-size="8.2" font-weight="bold" fill="#1c1c2c" textLength="6.2" lengthAdjust="spacingAndGlyphs">2</text><text x="253" y="362.6" font-size="8" font-weight="bold">5</text><text x="248.7" y="367.9" font-size="8" font-weight="bold" textLength="11.5" lengthAdjust="spacingAndGlyphs">16</text><text x="289.8" y="335.5" textLength="103.3" lengthAdjust="spacingAndGlyphs">Low on 05/14/12</text><text x="289.8" y="351.5" textLength="127.9" lengthAdjust="spacingAndGlyphs">SMAVG (55) on Close</text><text x="289.8" y="367.6" textLength="134.6" lengthAdjust="spacingAndGlyphs">SMAVG (233) on Close</text><text x="430.6" y="335.6" textLength="22.4" lengthAdjust="spacingAndGlyphs">629</text><text x="430.6" y="351.5" textLength="22.4" lengthAdjust="spacingAndGlyphs">676</text><text x="430.6" y="367.6" textLength="22.4" lengthAdjust="spacingAndGlyphs">719</text><text x="453.5" y="331.0" font-size="8.6" font-weight="bold" fill="#1c1c2c" textLength="5.6" lengthAdjust="spacingAndGlyphs">1</text><text x="457.4" y="336.0" font-size="8.2" font-weight="bold" fill="#1c1c2c" textLength="6.2" lengthAdjust="spacingAndGlyphs">2</text><text x="453.5" y="346.9" font-size="8.6" font-weight="bold" fill="#1c1c2c" textLength="5.6" lengthAdjust="spacingAndGlyphs">1</text><text x="457.4" y="351.9" font-size="8.2" font-weight="bold" fill="#1c1c2c" textLength="6.2" lengthAdjust="spacingAndGlyphs">8</text><text x="453.5" y="363.0" font-size="8.6" font-weight="bold" fill="#1c1c2c" textLength="5.6" lengthAdjust="spacingAndGlyphs">7</text><text x="457.4" y="368.0" font-size="8.2" font-weight="bold" fill="#1c1c2c" textLength="6.2" lengthAdjust="spacingAndGlyphs">8</text></g>
</g>
<path d="M0 381.2H720M719.5 0V381.8" stroke="#1e1e1e" stroke-width="1.5" fill="none"/>
<path d="M26.0 381V385M57.8 381V385M86.6 381V385M116.7 381V385M146.5 381V385M177.2 381V385M206.5 381V385M236.0 381V385M263.8 381V385M294.0 381V385M323.0 381V385M352.0 381V385M381.5 381V385M412.0 381V385M441.4 381V385M471.0 381V385M501.0 381V385M529.5 381V385M559.0 381V385M589.0 381V385M616.0 381V385M646.0 381V385M675.0 381V385M704.4 381V385" stroke="#1e1e1e" stroke-width="1.3" fill="none"/>
<path d="M720 57.5H723.6M720 149.3H723.6M720 241.3H723.6M720 333.5H723.6" stroke="#1e1e1e" stroke-width="1.3" fill="none"/>
<path d="M177.3 400V414M529.5 400V414" stroke="#333" stroke-width="1.2" fill="none"/>
<g fill="#000"><path d="M720 8.7L728.2 11.5L720 14.3Z"/><path d="M720 100.6L728.2 103.4L720 106.2Z"/><path d="M720 192.5L728.2 195.3L720 198.1Z"/><path d="M720 284.6L728.2 287.4L720 290.2Z"/><path d="M720 377.6L728.2 380.6L720 383.6Z"/></g>
<g font-size="13.6" fill="#111" stroke="#111" stroke-width="0.25"><text x="729.7" y="16.3" textLength="27.5" lengthAdjust="spacingAndGlyphs">1000</text><text x="728.9" y="108.2" textLength="21.1" lengthAdjust="spacingAndGlyphs">900</text><text x="728.9" y="200.1" textLength="21.1" lengthAdjust="spacingAndGlyphs">800</text><text x="728.9" y="292.2" textLength="21.1" lengthAdjust="spacingAndGlyphs">700</text></g>
<g font-size="13.2" fill="#1a1a1a" stroke="#1a1a1a" stroke-width="0.2"><text x="61.6" y="395.6" textLength="20.8" lengthAdjust="spacingAndGlyphs">Sep</text><text x="150.0" y="395.6" textLength="21.5" lengthAdjust="spacingAndGlyphs">Dec</text><text x="237.5" y="395.6" textLength="21.0" lengthAdjust="spacingAndGlyphs">Mar</text><text x="325.0" y="395.6" textLength="21.0" lengthAdjust="spacingAndGlyphs">Jun</text><text x="416.0" y="395.6" textLength="21.0" lengthAdjust="spacingAndGlyphs">Sep</text><text x="503.5" y="395.6" textLength="22.0" lengthAdjust="spacingAndGlyphs">Dec</text><text x="590.8" y="395.6" textLength="20.7" lengthAdjust="spacingAndGlyphs">Mar</text><text x="679.5" y="395.6" textLength="20.5" lengthAdjust="spacingAndGlyphs">Jun</text></g>
<g font-size="13.4" fill="#1a1a1a" stroke="#1a1a1a" stroke-width="0.2"><text x="74.5" y="411.6" textLength="27.2" lengthAdjust="spacingAndGlyphs">2010</text><text x="339.5" y="411.6" textLength="27.5" lengthAdjust="spacingAndGlyphs">2011</text><text x="609.7" y="411.6" textLength="27.6" lengthAdjust="spacingAndGlyphs">2012</text></g>
<g font-size="11.6" fill="#16161e" stroke="#16161e" stroke-width="0.2"><text x="2.2" y="427.8" textLength="6.6" lengthAdjust="spacingAndGlyphs">W</text><text x="13.4" y="427.8" textLength="11.6" lengthAdjust="spacingAndGlyphs">Z2</text><text x="31.0" y="427.8" textLength="35.5" lengthAdjust="spacingAndGlyphs">Comdty</text><text x="72.8" y="427.8" textLength="41.2" lengthAdjust="spacingAndGlyphs">(WHEAT</text><text x="117.5" y="427.8" textLength="62.0" lengthAdjust="spacingAndGlyphs">FUTURE(CBT)</text><text x="184.0" y="427.8" textLength="35.2" lengthAdjust="spacingAndGlyphs">Dec12)</text><text x="224.3" y="427.8" textLength="28.7" lengthAdjust="spacingAndGlyphs">0Daily</text><text x="259.4" y="427.8" textLength="117.7" lengthAdjust="spacingAndGlyphs">28JUN2007-26JUN2012</text><text x="408.0" y="427.8" textLength="54.0" lengthAdjust="spacingAndGlyphs">Copyright©</text><text x="467.8" y="427.8" textLength="21.9" lengthAdjust="spacingAndGlyphs">2012</text><text x="495.6" y="427.8" textLength="52.2" lengthAdjust="spacingAndGlyphs">Bloomberg</text><text x="553.6" y="427.8" textLength="38.2" lengthAdjust="spacingAndGlyphs">Finance</text><text x="596.0" y="427.8" textLength="19.2" lengthAdjust="spacingAndGlyphs">L.P.</text><text x="645.6" y="427.8" textLength="65.4" lengthAdjust="spacingAndGlyphs">26-Jun-2012</text><text x="716.5" y="427.8" textLength="44.5" lengthAdjust="spacingAndGlyphs">14:44:16</text></g>
<g font-size="13.7"><path d="M720.2 239.6L729 230.2H764V249.0H729Z" fill="#000"/><text x="728.2" y="244.8" fill="#fff" textLength="21" lengthAdjust="spacingAndGlyphs">751</text><text x="749.6" y="240.2" font-size="8.6" font-weight="bold" fill="#fff" textLength="5.6" lengthAdjust="spacingAndGlyphs">3</text><text x="753.5" y="245.2" font-size="8.2" font-weight="bold" fill="#fff" textLength="6.2" lengthAdjust="spacingAndGlyphs">4</text><path d="M720.2 268.6L729 259.2H764V278.0H729Z" fill="#00003a"/><text x="728.2" y="273.8" fill="#fff" textLength="21" lengthAdjust="spacingAndGlyphs">719</text><text x="749.6" y="269.2" font-size="8.6" font-weight="bold" fill="#fff" textLength="5.6" lengthAdjust="spacingAndGlyphs">7</text><text x="753.5" y="274.2" font-size="8.2" font-weight="bold" fill="#fff" textLength="6.2" lengthAdjust="spacingAndGlyphs">8</text><path d="M720.2 308.2L729 298.8H764V317.6H729Z" fill="#00003a"/><text x="728.2" y="313.4" fill="#fff" textLength="21" lengthAdjust="spacingAndGlyphs">676</text><text x="749.6" y="308.8" font-size="8.6" font-weight="bold" fill="#fff" textLength="5.6" lengthAdjust="spacingAndGlyphs">1</text><text x="753.5" y="313.8" font-size="8.2" font-weight="bold" fill="#fff" textLength="6.2" lengthAdjust="spacingAndGlyphs">8</text></g>
</svg>
</body></html>
